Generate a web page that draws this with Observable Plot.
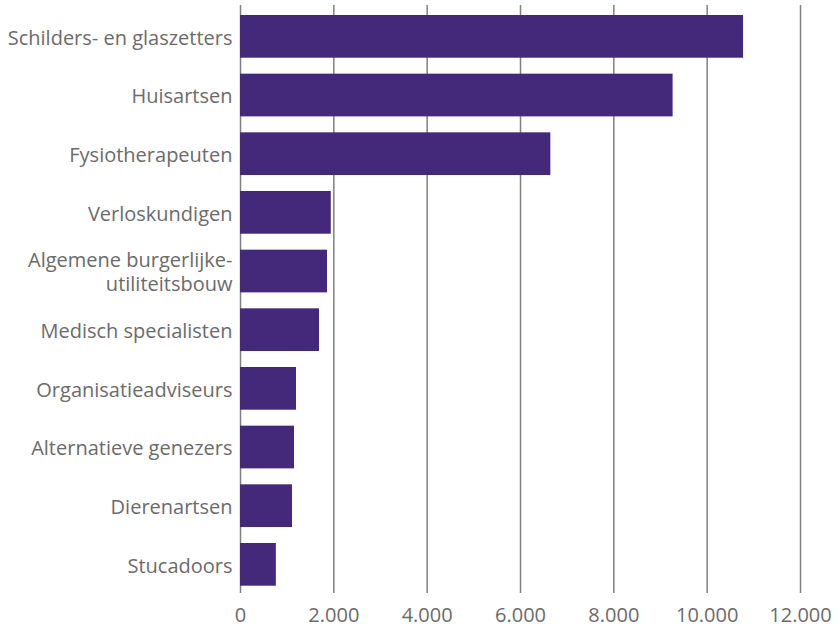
<!DOCTYPE html>
<html>
<head>
<meta charset="utf-8">
<script src="https://cdn.jsdelivr.net/npm/d3@7"></script>
<script src="https://cdn.jsdelivr.net/npm/@observablehq/plot@0.6"></script>
<style>
  html, body { margin: 0; padding: 0; background: #fff; }
</style>
</head>
<body>
<div id="chart"></div>
<script>
const categories = [
  "Schilders- en glaszetters",
  "Huisartsen",
  "Fysiotherapeuten",
  "Verloskundigen",
  "Algemene burgerlijke-\nutiliteitsbouw",
  "Medisch specialisten",
  "Organisatieadviseurs",
  "Alternatieve genezers",
  "Dierenartsen",
  "Stucadoors"
];
const values = [10780, 9270, 6650, 1945, 1864, 1693, 1200, 1157, 1114, 768];
const xTicks = [0, 2000, 4000, 6000, 8000, 10000, 12000];

const data = categories.map((c, i) => ({category: c, value: values[i]}));

const chart = Plot.plot({
  width: 840,
  height: 627,
  marginLeft: 240,
  marginRight: 40,
  marginTop: 5,
  marginBottom: 34,
  style: {fontFamily: "'Open Sans', sans-serif", fontSize: "20px", color: "#6b6b6b", background: "#fff"},
  x: {domain: [0, 12000], ticks: xTicks, label: null},
  y: {domain: categories, range: [15, 585.7], round: false, paddingInner: 0.272, paddingOuter: 0, label: null},
  marks: [
    Plot.ruleX(xTicks, {stroke: "#808080", strokeWidth: 1.5}),
    Plot.barX(data, {x: "value", y: "category", fill: "#44297b"}),
    Plot.axisX({ticks: xTicks, tickSize: 0, tickPadding: 14, tickFormat: d => d.toLocaleString("nl-NL"), fontSize: 20, fill: "#6b6b6b", label: null}),
    Plot.axisY({tickSize: 0, tickPadding: 8, fontSize: 20, fill: "#6b6b6b", label: null, lineHeight: 1.2})
  ]
});
document.getElementById("chart").appendChild(chart);
</script>
</body>
</html>
